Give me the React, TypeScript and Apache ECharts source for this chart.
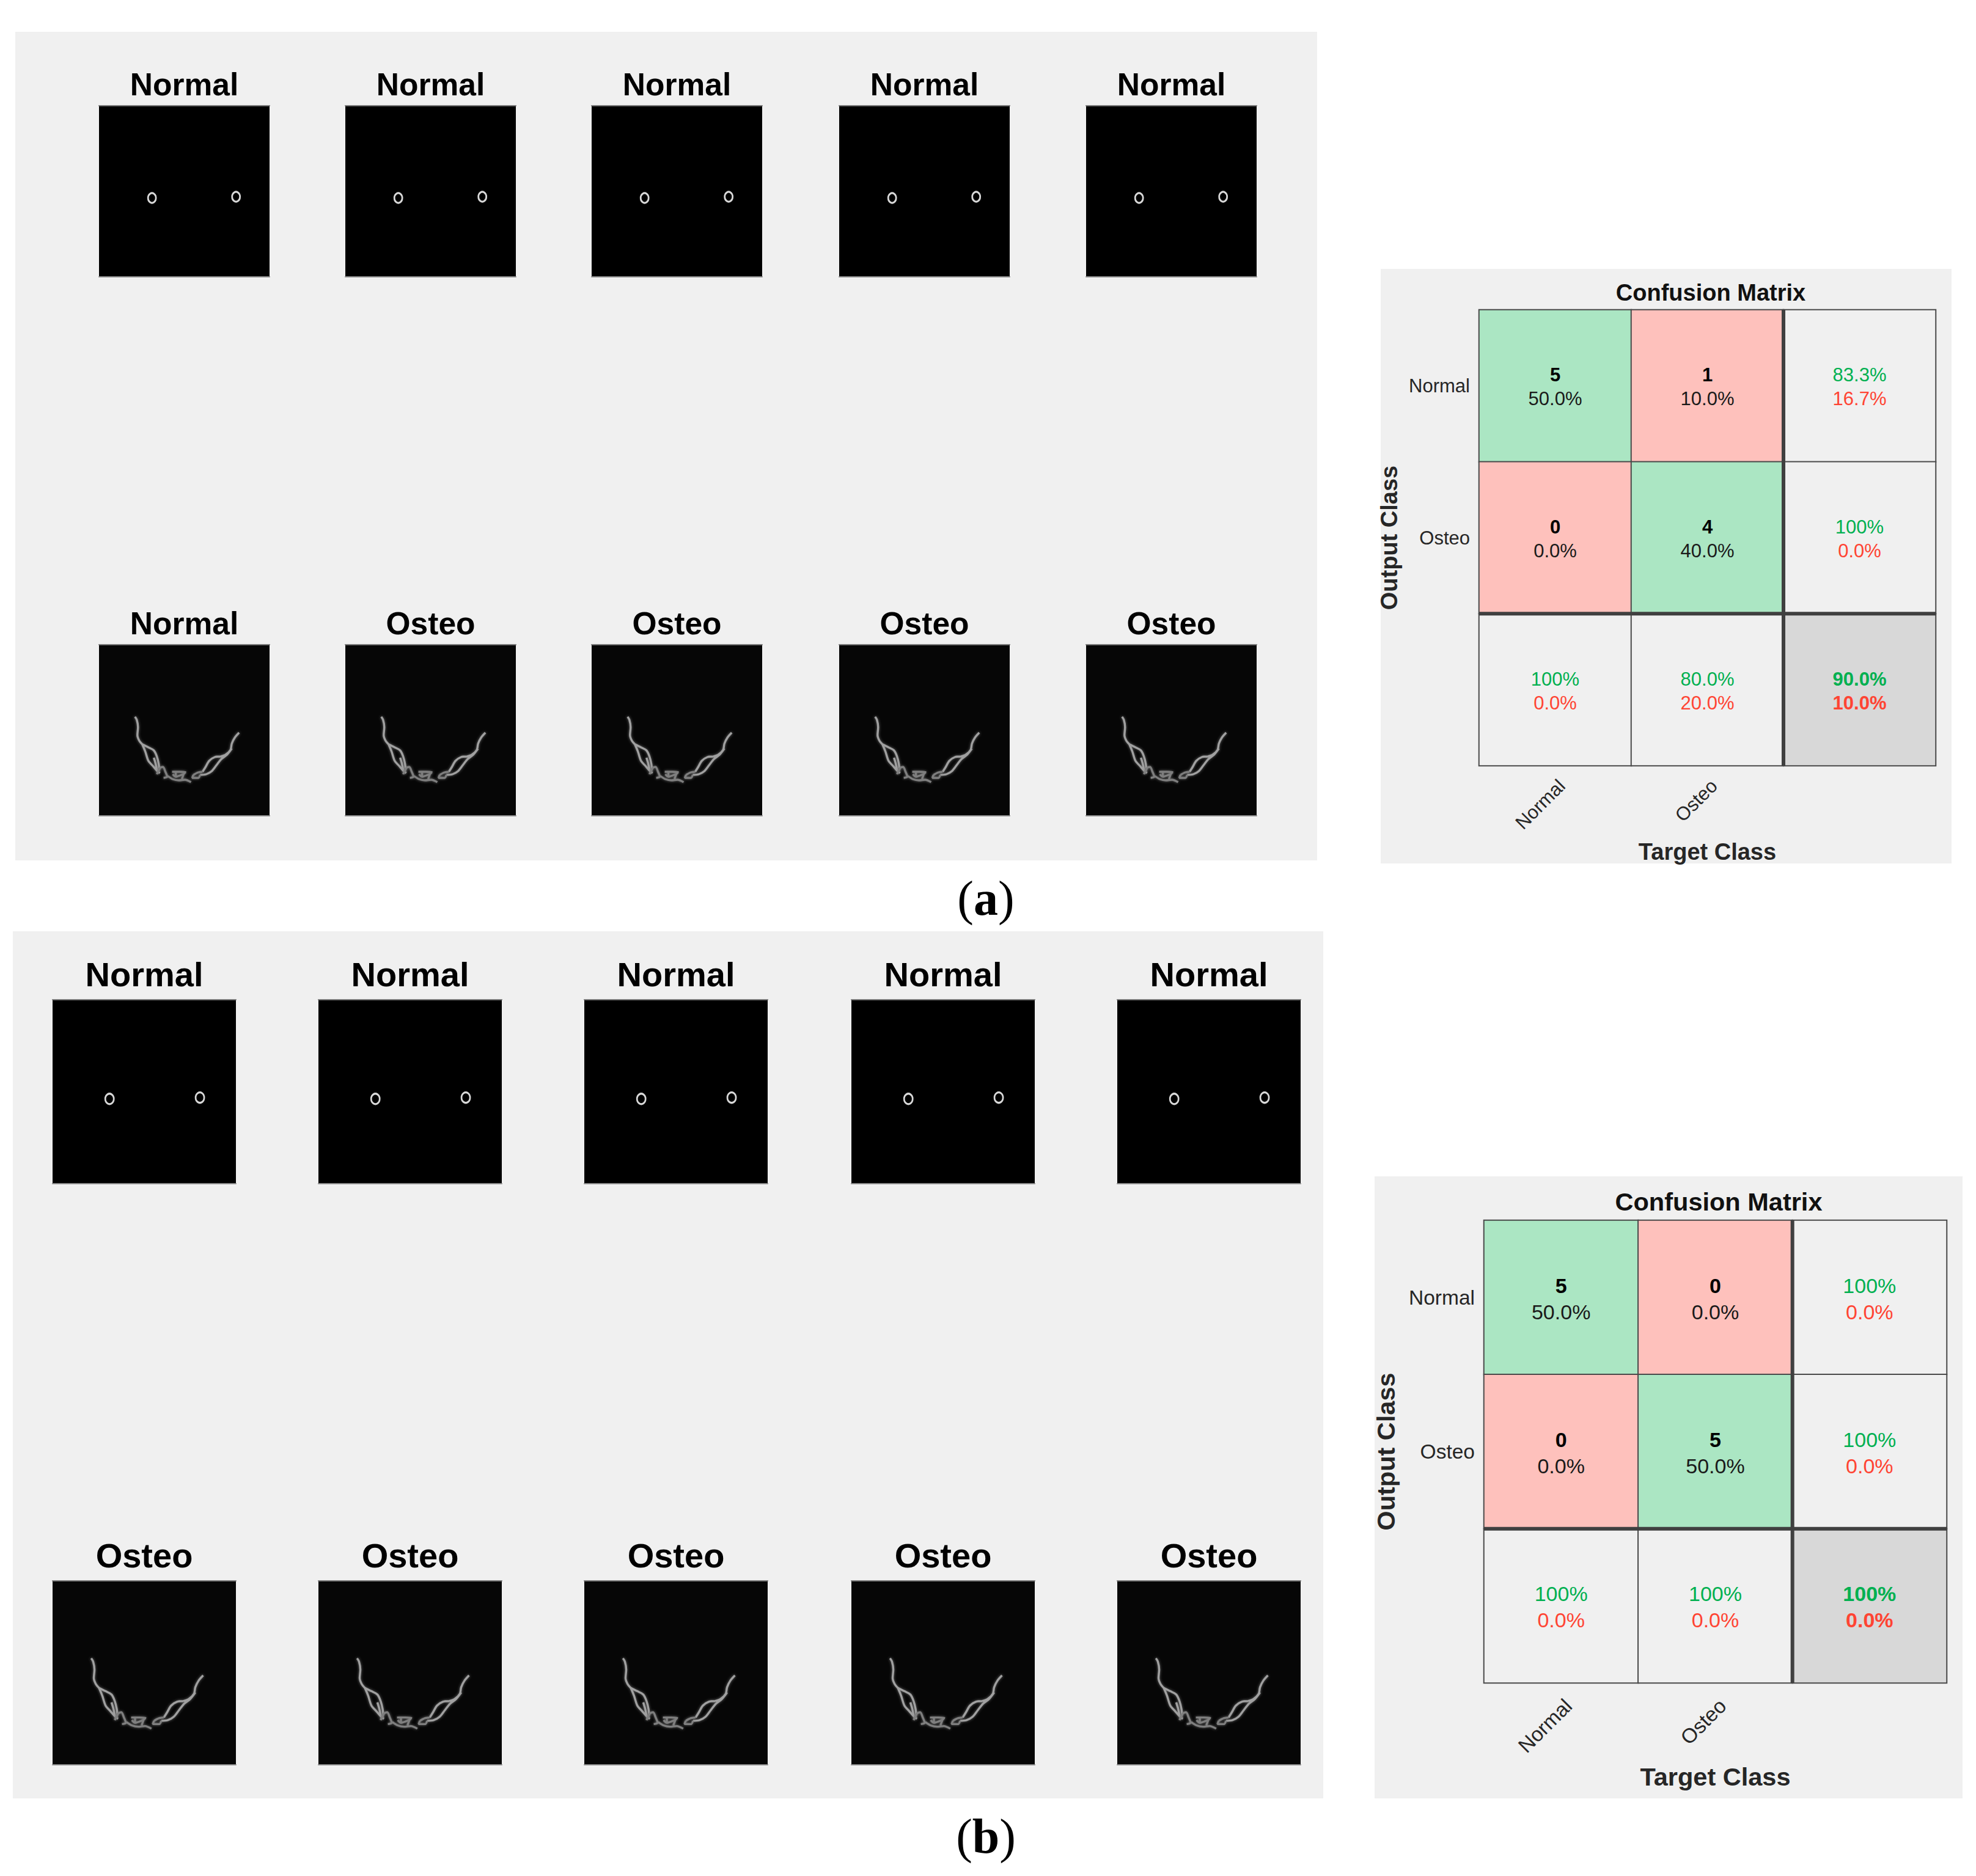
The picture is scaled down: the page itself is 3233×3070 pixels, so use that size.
import React, { useEffect, useRef } from "react";
import * as echarts from "echarts";

const tileTitlesA = ["Normal", "Normal", "Normal", "Normal", "Normal", "Normal", "Osteo", "Osteo", "Osteo", "Osteo"];
const tileTitlesB = ["Normal", "Normal", "Normal", "Normal", "Normal", "Osteo", "Osteo", "Osteo", "Osteo", "Osteo"];

const ringPoints = [[87, 151], [225, 149]];

const BREAK = [NaN, NaN];
const boneSides = [
  [59, 118], [62, 123], [64, 135], [63, 148], [66, 157], [71, 163], BREAK,
  [71, 163], [81, 168], [90, 173], [95, 183], [98, 195], [99, 205], BREAK,
  [71, 163], [76, 175], [81, 190], [88, 198], [96, 207], [100, 210], BREAK,
  [90, 185], [93, 195], [95, 205], BREAK,
  [230, 144], [223, 152], [218, 162], [216, 172], [208, 180], [200, 183], BREAK,
  [200, 183], [190, 184], [181, 190], [175, 200], [170, 208], BREAK,
  [218, 170], [210, 180], [201, 187], [193, 197], [185, 207], [176, 212], [166, 213],
];
const boneCenter = [
  [99, 205], [95, 212], BREAK,
  [95, 212], [100, 202], [105, 200], [109, 208], [112, 216], [106, 218], BREAK,
  [120, 208], [133, 208], [143, 209], BREAK,
  [121, 212], [126, 216], [138, 212], [141, 210], BREAK,
  [126, 208], [126, 215], BREAK,
  [113, 215], [121, 220], [131, 222], [141, 221], [151, 225], BREAK,
  [140, 209], [136, 220], BREAK,
  [155, 213], [163, 209], [170, 208], BREAK,
  [155, 213], [153, 218], [163, 218], [166, 213],
];

const classes = ["Normal", "Osteo", ""];
const countsA = [[5, 1], [0, 4]];
const sharesA = [["50.0%", "10.0%"], ["0.0%", "40.0%"]];
const rowSummaryA = [["83.3%", "16.7%"], ["100%", "0.0%"]];
const colSummaryA = [["100%", "0.0%"], ["80.0%", "20.0%"]];
const totalA = ["90.0%", "10.0%"];
const countsB = [[5, 0], [0, 5]];
const sharesB = [["50.0%", "0.0%"], ["0.0%", "50.0%"]];
const rowSummaryB = [["100%", "0.0%"], ["100%", "0.0%"]];
const colSummaryB = [["100%", "0.0%"], ["100%", "0.0%"]];
const totalB = ["100%", "0.0%"];

const verticalRule = [[2, 0], [2, 3]];
const horizontalRule = [[0, 2], [3, 2]];

const SANS = "Liberation Sans";
const KIND_HIT = 0;
const KIND_MISS = 1;
const KIND_SUMMARY = 2;
const KIND_TOTAL = 3;
const GREEN_CELL = "#abe6c3";
const RED_CELL = "#fec1bc";
const GRAY_CELL = "#f0f0f0";
const TOTAL_CELL = "#d8d8d8";
const GREEN_TEXT = "#00b050";
const RED_TEXT = "#ff4433";
const PANEL = "#f0f0f0";

type TileLayout = {
  xs: number[]; ys: number[]; w: number; h: number;
  titleYs: number[]; titleSize: number; titles: string[];
  ring: number[]; rowColors: string[];
};
type MatrixLayout = {
  x: number; y: number; w: number; h: number;
  titleX: number; titleY: number; titleSize: number; textSize: number; tickSize: number; axisSize: number;
  lineH: number; nameGapX: number; nameGapY: number; labelMargin: number;
  counts: number[][]; shares: string[][]; rows: string[][]; cols: string[][]; total: string[];
};

const tilesA: TileLayout = {
  xs: [162, 565, 968, 1373, 1777], ys: [173, 1055], w: 279, h: 280,
  titleYs: [142, 1024], titleSize: 51.5, titles: tileTitlesA,
  ring: [13, 16], rowColors: ["#000000", "#060606"],
};
const tilesB: TileLayout = {
  xs: [86, 521, 956, 1393, 1828], ys: [1636, 2587], w: 300, h: 301,
  titleYs: [1599, 2550], titleSize: 56, titles: tileTitlesB,
  ring: [14, 17], rowColors: ["#000000", "#060606"],
};
const matrixA: MatrixLayout = {
  x: 2420, y: 507, w: 747, h: 746, titleX: 2799, titleY: 482, titleSize: 38, textSize: 31, tickSize: 31, axisSize: 38,
  lineH: 39, nameGapX: 122, nameGapY: 128, labelMargin: 17,
  counts: countsA, shares: sharesA, rows: rowSummaryA, cols: colSummaryA, total: totalA,
};
const matrixB: MatrixLayout = {
  x: 2428, y: 1997, w: 757, h: 757, titleX: 2812, titleY: 1970, titleSize: 41.5, textSize: 34, tickSize: 33.5, axisSize: 41.5,
  lineH: 43, nameGapX: 132, nameGapY: 140, labelMargin: 20,
  counts: countsB, shares: sharesB, rows: rowSummaryB, cols: colSummaryB, total: totalB,
};

function buildOption() {
  const grid: any[] = [];
  const xAxis: any[] = [];
  const yAxis: any[] = [];
  const series: any[] = [];
  const title: any[] = [];
  const heatmapSeries: number[] = [];

  const addTiles = (t: TileLayout) => {
    t.ys.forEach((top, row) => {
      t.xs.forEach((left, col) => {
        const g = grid.length;
        grid.push({ left, top, width: t.w, height: t.h, show: true, backgroundColor: t.rowColors[row], borderWidth: 0, containLabel: false });
        const edge = (position: string, color: string) => ({
          type: "value", gridIndex: g, min: 0, max: 280, position,
          axisLine: { show: true, onZero: false, lineStyle: { color, width: 2 } },
          axisTick: { show: false }, axisLabel: { show: false }, splitLine: { show: false },
        });
        const xi = xAxis.length;
        xAxis.push(edge("bottom", "#8a8a8a"), edge("top", "#777777"));
        const yi = yAxis.length;
        yAxis.push({ type: "value", gridIndex: g, min: 0, max: 280, inverse: true, show: false });
        const idx = row * t.xs.length + col;
        title.push({
          text: t.titles[idx], left: left + t.w / 2, top: t.titleYs[row] - t.titleSize * 0.58, textAlign: "center", padding: 0,
          textStyle: { fontFamily: SANS, fontWeight: "bold", fontSize: t.titleSize, color: "#000000" },
        });
        if (row === 0) {
          series.push({
            type: "scatter", xAxisIndex: xi, yAxisIndex: yi, data: ringPoints, symbol: "circle", symbolSize: t.ring, silent: true,
            itemStyle: { color: "rgba(0,0,0,0)", borderColor: "#d8d8d8", borderWidth: 3, opacity: 1 },
          });
        } else {
          const bone = (data: number[][], color: string) => ({
            type: "line", xAxisIndex: xi, yAxisIndex: yi, data, smooth: 0.3, showSymbol: false, symbol: "none", silent: true, connectNulls: false,
            lineStyle: { color, width: 3.4, shadowBlur: 4, shadowColor: "rgba(130,130,130,0.8)" },
          });
          series.push(bone(boneSides, "#a0a0a0"), bone(boneCenter, "#7e7e7e"));
        }
      });
    });
  };

  const addMatrix = (m: MatrixLayout) => {
    const g = grid.length;
    grid.push({ left: m.x, top: m.y, width: m.w, height: m.h, containLabel: false });
    const xi = xAxis.length;
    const yi = yAxis.length;
    const tickLabel = { fontFamily: SANS, fontSize: m.tickSize, color: "#262626" };
    xAxis.push({
      type: "category", gridIndex: g, data: classes, position: "bottom",
      axisLine: { show: false }, axisTick: { show: false }, splitLine: { show: false },
      axisLabel: { ...tickLabel, rotate: 45, verticalAlign: "top", margin: m.labelMargin, interval: 0 },
      name: "Target Class", nameLocation: "middle", nameGap: m.nameGapX,
      nameTextStyle: { fontFamily: SANS, fontWeight: "bold", fontSize: m.axisSize, color: "#262626" },
    });
    yAxis.push({
      type: "category", gridIndex: g, data: classes, inverse: true,
      axisLine: { show: false }, axisTick: { show: false }, splitLine: { show: false },
      axisLabel: { ...tickLabel, margin: 15, interval: 0 },
      name: "Output Class", nameLocation: "middle", nameGap: m.nameGapY, nameRotate: 90,
      nameTextStyle: { fontFamily: SANS, fontWeight: "bold", fontSize: m.axisSize, color: "#262626" },
    });
    xAxis.push({ type: "value", gridIndex: g, min: 0, max: 3, show: false });
    yAxis.push({ type: "value", gridIndex: g, min: 0, max: 3, inverse: true, show: false });

    title.push({
      text: "Confusion Matrix", left: m.titleX, top: m.titleY - m.titleSize * 0.58, textAlign: "center", padding: 0,
      textStyle: { fontFamily: SANS, fontWeight: "bold", fontSize: m.titleSize, color: "#111111" },
    });

    const rich = {
      n: { fontFamily: SANS, fontWeight: "bold", fontSize: m.textSize, lineHeight: m.lineH, color: "#000000" },
      k: { fontFamily: SANS, fontSize: m.textSize, lineHeight: m.lineH, color: "#1a1a1a" },
      g: { fontFamily: SANS, fontSize: m.textSize, lineHeight: m.lineH, color: GREEN_TEXT },
      r: { fontFamily: SANS, fontSize: m.textSize, lineHeight: m.lineH, color: RED_TEXT },
      gb: { fontFamily: SANS, fontWeight: "bold", fontSize: m.textSize, lineHeight: m.lineH, color: GREEN_TEXT },
      rb: { fontFamily: SANS, fontWeight: "bold", fontSize: m.textSize, lineHeight: m.lineH, color: RED_TEXT },
    };
    const cell = (x: number, y: number, kind: number, text: string) => ({
      value: [x, y, kind],
      label: { show: true, formatter: text, rich, offset: [0, 2] },
    });
    const data: any[] = [];
    m.counts.forEach((r, y) => r.forEach((v, x) => {
      data.push(cell(x, y, x === y ? KIND_HIT : KIND_MISS, `{n|${v}}\n{k|${m.shares[y][x]}}`));
    }));
    m.rows.forEach((p, y) => data.push(cell(2, y, KIND_SUMMARY, `{g|${p[0]}}\n{r|${p[1]}}`)));
    m.cols.forEach((p, x) => data.push(cell(x, 2, KIND_SUMMARY, `{g|${p[0]}}\n{r|${p[1]}}`)));
    data.push(cell(2, 2, KIND_TOTAL, `{gb|${m.total[0]}}\n{rb|${m.total[1]}}`));

    heatmapSeries.push(series.length);
    series.push({
      type: "heatmap", xAxisIndex: xi, yAxisIndex: yi, data, silent: true,
      itemStyle: { borderColor: "#4a4a4a", borderWidth: 2 },
    });
    [verticalRule, horizontalRule].forEach((rule) => {
      series.push({
        type: "line", xAxisIndex: xi + 1, yAxisIndex: yi + 1, data: rule, showSymbol: false, symbol: "none", silent: true, z: 5,
        lineStyle: { color: "#404040", width: 6, cap: "butt" },
      });
    });
  };

  addTiles(tilesA);
  addTiles(tilesB);
  addMatrix(matrixA);
  addMatrix(matrixB);

  const caption = (letter: string, y: number) => ({
    text: `{p|(}{b|${letter}}{p|)}`, left: 1613, top: y, textAlign: "center", padding: 0,
    textStyle: {
      fontWeight: "normal",
      rich: {
        p: { fontFamily: "Liberation Serif", fontWeight: "normal", fontSize: 80, color: "#000000" },
        b: { fontFamily: "Liberation Serif", fontWeight: "bold", fontSize: 80, color: "#000000" },
      },
    },
  });
  title.push(caption("a", 1430), caption("b", 2965));

  const panel = (x: number, y: number, r: number, b: number) => ({
    type: "rect", z: -10, silent: true, shape: { x, y, width: r - x, height: b - y }, style: { fill: PANEL },
  });

  return {
    animation: false,
    backgroundColor: "#ffffff",
    graphic: {
      elements: [
        panel(25, 52, 2155, 1408),
        panel(21, 1524, 2165, 2943),
        panel(2259, 440, 3193, 1413),
        panel(2249, 1925, 3211, 2943),
      ],
    },
    visualMap: {
      type: "piecewise", show: false, dimension: 2, seriesIndex: heatmapSeries,
      pieces: [
        { value: KIND_HIT, color: GREEN_CELL },
        { value: KIND_MISS, color: RED_CELL },
        { value: KIND_SUMMARY, color: GRAY_CELL },
        { value: KIND_TOTAL, color: TOTAL_CELL },
      ],
    },
    title, grid, xAxis, yAxis, series,
  };
}

export default function App() {
  const ref = useRef<HTMLDivElement>(null);
  useEffect(() => {
    if (!ref.current) return;
    const chart = echarts.init(ref.current, undefined, { renderer: "svg" });
    chart.setOption(buildOption() as any);
    return () => chart.dispose();
  }, []);
  return <div ref={ref} style={{ position: "absolute", left: 0, top: 0, width: 3233, height: 3070 }} />;
}
